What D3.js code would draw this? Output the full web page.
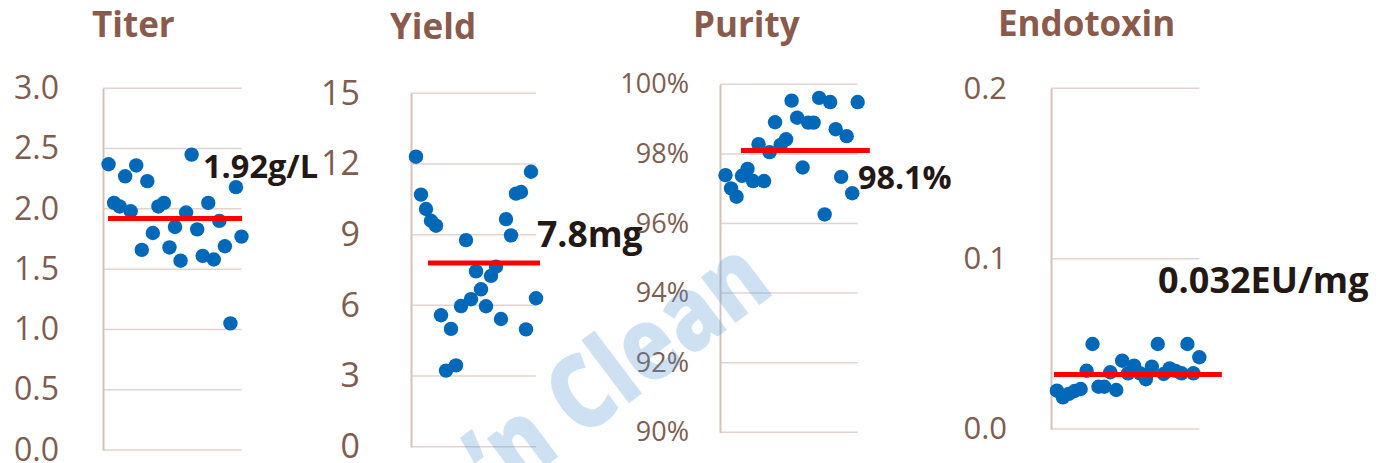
<!DOCTYPE html>
<html>
<head>
<meta charset="utf-8">
<script src="https://cdn.jsdelivr.net/npm/d3@7"></script>
<style>
  html, body { margin: 0; padding: 0; background: #fff; }
  svg { display: block; }
</style>
</head>
<body>
<svg id="chart" width="1381" height="463"></svg>
<script>
// Lot-by-lot results, 25 lots per attribute
const titerValues = [2.37, 2.05, 2.02, 2.27, 1.98, 2.36, 1.66, 2.23, 1.80, 2.02, 2.05, 1.68, 1.85,
                     1.57, 1.97, 2.45, 1.83, 1.61, 2.05, 1.58, 1.90, 1.69, 1.05, 2.18, 1.77];
const yieldValues = [12.31, 10.70, 10.09, 9.59, 9.38, 5.58, 3.23, 5.00, 3.45, 5.97, 8.77, 6.26, 7.44,
                     6.68, 5.96, 7.25, 7.64, 5.42, 9.66, 8.97, 10.74, 10.81, 4.98, 11.67, 6.30];
const purityValues = [97.39, 97.01, 96.77, 97.37, 97.57, 97.22, 98.28, 97.22, 98.05, 98.91, 98.26, 98.42, 99.53,
                      99.04, 97.61, 98.90, 98.90, 99.61, 96.26, 99.49, 98.71, 97.34, 98.51, 96.87, 99.49];
const endotoxinValues = [0.0225, 0.0186, 0.0206, 0.0223, 0.0235, 0.0342, 0.0499, 0.0248, 0.0248, 0.0333,
                         0.0229, 0.0401, 0.0327, 0.0372, 0.0327, 0.0292, 0.0366, 0.0499, 0.0323, 0.0356,
                         0.0341, 0.0327, 0.0499, 0.0327, 0.0421];

const titles = ["Titer", "Yield", "Purity", "Endotoxin"];
const meanValues = [1.92, 7.8, 98.1, 0.032];
const meanLabels = ["1.92g/L", "7.8mg", "98.1%", "0.032EU/mg"];

const titerTicks = [0, 0.5, 1.0, 1.5, 2.0, 2.5, 3.0];
const yieldTicks = [0, 3, 6, 9, 12, 15];
const purityTicks = [90, 92, 94, 96, 98, 100];
const endotoxinTicks = [0, 0.1, 0.2];

const seriesValues = [titerValues, yieldValues, purityValues, endotoxinValues];
const seriesTicks = [titerTicks, yieldTicks, purityTicks, endotoxinTicks];
const tickFormats = [d3.format(".1f"), d3.format("d"), d => d + "%", d3.format(".1f")];

// Panel geometry (pixels) and annotation placement (data units)
const layout = [
  { x0: 103, x1: 241.5, yb: 450,   yt: 88.3, tickRight: 59,   tickSize: 32,
    titleX: 92,  titleY: 37, lineFrom: 0.9, lineTo: 25.1, labX: 18.05, labY: 2.26,  labSize: 32.5 },
  { x0: 411, x1: 536,   yb: 446.7, yt: 93.3, tickRight: 360,  tickSize: 34,
    titleX: 390, titleY: 39, lineFrom: 3.4, lineTo: 25.8, labX: 25.2,  labY: 8.48,  labSize: 35.5 },
  { x0: 720, x1: 857.7, yb: 432.3, yt: 84.3, tickRight: 689,  tickSize: 27,
    titleX: 693, titleY: 37, lineFrom: 3.8, lineTo: 27.2, labX: 25.05, labY: 96.99, labSize: 32.3 },
  { x0: 1051, x1: 1199.3, yb: 429, yt: 88.3, tickRight: 1007, tickSize: 31,
    titleX: 998, titleY: 36, lineFrom: 0.5, lineTo: 28.8, labX: 18.04, labY: 0.0799, labSize: 36 }
];

const svg = d3.select("#chart");
const FONT = "'Open Sans', 'Liberation Sans', sans-serif";

layout.forEach((p, i) => {
  const values = seriesValues[i];
  const ticks = seriesTicks[i];
  const x = d3.scaleLinear().domain([0, 25]).range([p.x0, p.x1]);
  const y = d3.scaleLinear().domain([ticks[0], ticks[ticks.length - 1]]).range([p.yb, p.yt]);
  const g = svg.append("g");

  // horizontal gridlines
  g.selectAll("line.grid").data(ticks).join("line")
    .attr("x1", p.x0).attr("x2", p.x1)
    .attr("y1", d => y(d)).attr("y2", d => y(d))
    .attr("stroke", "#e2d3cf").attr("stroke-width", 1.5);

  // vertical axis via d3.axisLeft, restyled
  const axis = d3.axisLeft(y).tickValues(ticks).tickFormat(tickFormats[i]).tickSize(0).tickPadding(p.x0 - p.tickRight);
  const ag = g.append("g").attr("transform", `translate(${p.x0},0)`).call(axis);
  ag.select(".domain").attr("stroke", "#d6c2bc").attr("stroke-width", 2);
  ag.selectAll(".tick text")
    .attr("font-family", FONT)
    .attr("font-size", p.tickSize)
    .attr("fill", "#7e5d50");

  // title
  g.append("text")
    .attr("x", p.titleX).attr("y", p.titleY)
    .attr("font-family", FONT).attr("font-weight", 700)
    .attr("font-size", 35).attr("fill", "#8a5b4d")
    .text(titles[i]);

  // lot points
  g.selectAll("circle").data(values).join("circle")
    .attr("cx", (d, k) => x(k + 1))
    .attr("cy", d => y(d))
    .attr("r", 7.2)
    .attr("fill", "#0068b8");

  // mean line
  g.append("line")
    .attr("x1", x(p.lineFrom)).attr("x2", x(p.lineTo))
    .attr("y1", y(meanValues[i])).attr("y2", y(meanValues[i]))
    .attr("stroke", "#ff0000").attr("stroke-width", 5);

  // mean label
  g.append("text")
    .attr("x", x(p.labX)).attr("y", y(p.labY))
    .attr("font-family", FONT).attr("font-weight", 700)
    .attr("font-size", p.labSize).attr("fill", "#231815")
    .text(meanLabels[i]);
});

// translucent brand watermark (condensed bold lettering)
svg.append("text")
  .attr("transform", "translate(614,364) rotate(-37) scale(0.82,1)")
  .attr("text-anchor", "middle")
  .attr("dominant-baseline", "central")
  .attr("font-family", FONT).attr("font-weight", 800)
  .attr("font-size", 104)
  .attr("fill", "#5b9bd5").attr("fill-opacity", 0.3)
  .text("\u2019n Clean");
</script>
</body>
</html>
